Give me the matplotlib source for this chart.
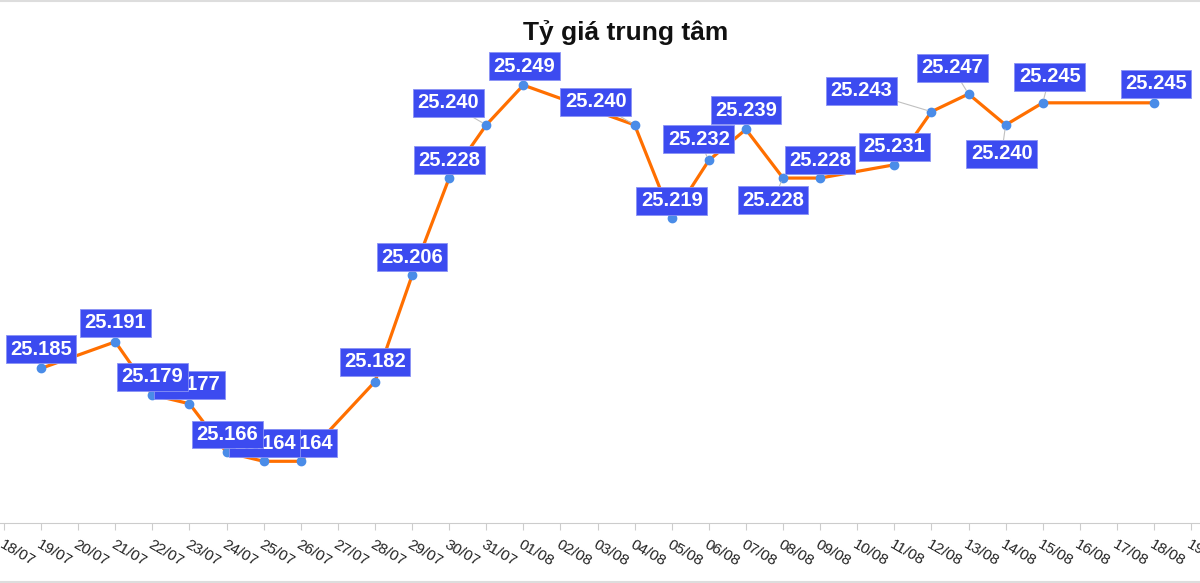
import numpy as np
import matplotlib.pyplot as plt
from matplotlib.lines import Line2D

plt.rcParams["font.family"] = ["Liberation Sans", "DejaVu Sans"]

# categories 17/07 .. 19/08, missing days are None (line joins across them)
DATES = ["17/07", "18/07", "19/07", "20/07", "21/07", "22/07", "23/07", "24/07",
         "25/07", "26/07", "27/07", "28/07", "29/07", "30/07", "31/07", "01/08",
         "02/08", "03/08", "04/08", "05/08", "06/08", "07/08", "08/08", "09/08",
         "10/08", "11/08", "12/08", "13/08", "14/08", "15/08", "16/08", "17/08",
         "18/08", "19/08"]
RATES = [None, None, 25.185, None, 25.191, 25.179, 25.177, 25.166,
         25.164, 25.164, None, 25.182, 25.206, 25.228, 25.240, 25.249,
         None, None, 25.240, 25.219, 25.232, 25.239, 25.228, 25.228,
         None, 25.231, 25.243, 25.247, 25.240, 25.245, None, None,
         25.245, None]

# label placement (pixels, y up) for each plotted point, and whether it has a leader line
LABEL_OFFSETS = [(0, 19), (0, 19), (0, 18), (0, 19), (1, 18), (1, 18), (1, 18),
                 (0, 20), (0, 18), (0, 18), (-38, 22), (1, 19), (-39, 23),
                 (0, 17), (-10, 21), (0, 19), (-10, -22), (0, 18), (0, 18),
                 (-70, 21), (-16, 26), (-4, -29), (7, 26), (2, 19)]
LEADERS = [False] * 10 + [True, False, True, False, True, False, True,
                          False, False, True, True, True, True, False]

LINE_COLOR = "#ff6f00"
DOT_COLOR = "#4a8ce8"
BOX_COLOR = "#3c4bf0"

x = np.array([i for i, v in enumerate(RATES) if v is not None])
y = np.array([v for v in RATES if v is not None])

fig = plt.figure(figsize=(12, 5.83), dpi=100)
ax = fig.add_axes([0, 0.1025, 1, 0.835])

ax.plot(x, y, color=LINE_COLOR, linewidth=2.3, zorder=2)
ax.plot(x, y, "o", color=DOT_COLOR, markersize=6, zorder=3)

n = len(x)
for k, (xi, yi) in enumerate(zip(x, y)):
    dx, dy = LABEL_OFFSETS[k]
    kw = {}
    if LEADERS[k]:
        kw["arrowprops"] = dict(arrowstyle="-", color="#c0c0c0", lw=0.8,
                                shrinkA=0, shrinkB=3)
    ax.annotate(f"{yi:.3f}", (xi, yi), xytext=(dx, dy),
                textcoords="offset pixels", ha="center", va="center",
                fontsize=14.5, fontweight="bold", color="white",
                bbox=dict(boxstyle="square,pad=0.22", fc=BOX_COLOR,
                          ec="#8a93f5", lw=0.6),
                zorder=10 + n - k, **kw)

ax.set_xticks(range(len(DATES)))
ax.set_xticklabels(DATES, rotation=-30, ha="left", va="top",
                   rotation_mode="anchor", fontsize=11, color="#222222")
ax.set_xlim(0.892, 33.24)
ax.set_ylim(25.15, 25.26)
ax.tick_params(axis="x", length=5, color="#cccccc", pad=5)
ax.set_yticks([])
for side in ["top", "left", "right"]:
    ax.spines[side].set_visible(False)
ax.spines["bottom"].set_color("#cccccc")

fig.text(0.521, 0.945, "Tỷ giá trung tâm", ha="center", va="center",
         fontsize=19, fontweight="bold", color="#111111")

fig.add_artist(Line2D([0, 1], [0.999, 0.999], color="#dddddd", lw=1.5))
fig.add_artist(Line2D([0, 1], [0.002, 0.002], color="#dddddd", lw=1.5))

fig.savefig("out.png", dpi=100)
